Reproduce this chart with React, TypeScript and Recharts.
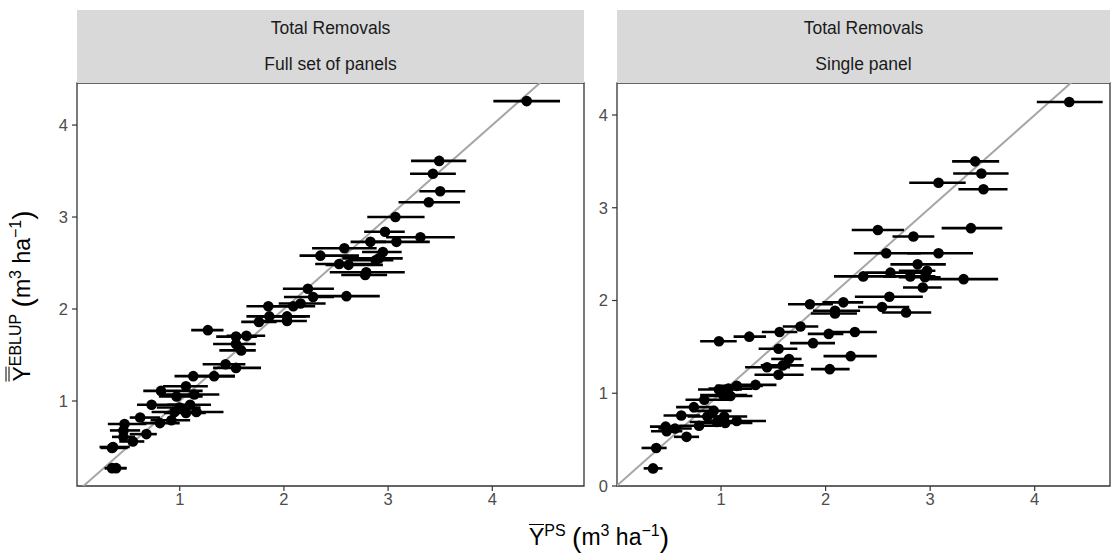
import {
  ErrorBar,
  ReferenceArea,
  ReferenceLine,
  Scatter,
  ScatterChart,
  XAxis,
  YAxis,
} from 'recharts';

// Full set of panels: PS estimate (x), EBLUP (y), and the x interval ends
const fullX = [4.33, 3.49, 3.43, 3.5, 3.39, 3.07, 2.97, 2.83, 3.08, 3.31, 2.58, 2.95, 2.35, 2.91, 2.88, 2.53, 2.62, 2.79, 2.78, 2.6, 2.23, 2.28, 2.16, 2.09, 1.85, 1.86, 1.76, 2.03, 2.03, 1.27, 1.54, 1.64, 1.54, 1.59, 1.44, 1.54, 1.13, 1.33, 1.06, 0.82, 1.14, 0.97, 0.73, 1.1, 1.0, 0.95, 1.16, 1.06, 0.92, 0.81, 0.62, 0.47, 0.46, 0.68, 0.46, 0.55, 0.36, 0.35, 0.35, 0.39];
const fullY = [4.26, 3.61, 3.47, 3.28, 3.16, 3.0, 2.84, 2.73, 2.73, 2.78, 2.66, 2.62, 2.58, 2.55, 2.53, 2.49, 2.48, 2.4, 2.37, 2.14, 2.22, 2.13, 2.06, 2.03, 2.03, 1.92, 1.86, 1.92, 1.87, 1.77, 1.7, 1.71, 1.62, 1.55, 1.4, 1.36, 1.27, 1.27, 1.16, 1.11, 1.07, 1.05, 0.96, 0.96, 0.93, 0.88, 0.88, 0.87, 0.79, 0.76, 0.82, 0.75, 0.68, 0.64, 0.61, 0.56, 0.5, 0.49, 0.27, 0.27];
const fullLo = [4.01, 3.22, 3.21, 3.3, 3.1, 2.8, 2.77, 2.64, 2.85, 2.98, 2.27, 2.75, 2.15, 2.56, 2.62, 2.3, 2.4, 2.44, 2.55, 2.27, 1.99, 2.0, 1.95, 1.86, 1.64, 1.64, 1.59, 1.77, 1.78, 1.11, 1.35, 1.45, 1.32, 1.38, 1.22, 1.32, 0.95, 1.17, 0.84, 0.65, 0.81, 0.8, 0.59, 0.88, 0.78, 0.73, 0.9, 0.85, 0.72, 0.63, 0.52, 0.31, 0.33, 0.52, 0.35, 0.42, 0.23, 0.24, 0.28, 0.28];
const fullHi = [4.65, 3.75, 3.65, 3.74, 3.69, 3.35, 3.16, 2.98, 3.4, 3.64, 2.89, 3.13, 2.72, 3.14, 3.05, 2.85, 2.95, 3.16, 2.99, 2.92, 2.48, 2.48, 2.4, 2.3, 2.15, 2.21, 1.93, 2.25, 2.22, 1.42, 1.74, 1.82, 1.73, 1.73, 1.63, 1.78, 1.53, 1.53, 1.27, 1.22, 1.38, 1.22, 1.0, 1.3, 1.2, 1.15, 1.42, 1.25, 1.1, 1.0, 0.81, 0.68, 0.62, 0.78, 0.57, 0.66, 0.52, 0.5, 0.49, 0.49];

// Single panel
const singleX = [4.33, 3.43, 3.49, 3.08, 3.51, 3.39, 2.5, 2.84, 2.58, 3.08, 2.88, 2.62, 2.97, 2.36, 2.81, 2.95, 3.32, 2.93, 2.61, 2.54, 2.77, 1.85, 2.17, 2.09, 2.09, 1.76, 1.56, 2.03, 2.28, 1.88, 2.24, 2.04, 1.27, 0.98, 1.55, 1.65, 1.59, 1.44, 1.55, 1.33, 1.15, 1.07, 1.02, 1.09, 0.98, 0.84, 0.74, 0.93, 0.62, 0.87, 1.03, 0.96, 1.04, 1.15, 0.79, 0.47, 0.48, 0.56, 0.67, 0.38, 0.35];
const singleY = [4.14, 3.5, 3.37, 3.27, 3.2, 2.78, 2.76, 2.69, 2.51, 2.51, 2.39, 2.3, 2.32, 2.26, 2.26, 2.25, 2.23, 2.14, 2.04, 1.93, 1.87, 1.96, 1.98, 1.89, 1.86, 1.72, 1.66, 1.64, 1.66, 1.54, 1.4, 1.26, 1.61, 1.56, 1.48, 1.37, 1.3, 1.28, 1.2, 1.09, 1.08, 1.05, 0.98, 0.97, 1.04, 0.93, 0.85, 0.81, 0.76, 0.75, 0.75, 0.69, 0.68, 0.7, 0.65, 0.64, 0.59, 0.62, 0.53, 0.41, 0.19];
const singleLo = [4.02, 3.21, 3.22, 2.8, 3.27, 3.11, 2.25, 2.64, 2.27, 2.78, 2.62, 2.38, 2.7, 2.08, 2.55, 2.7, 2.98, 2.74, 2.28, 2.31, 2.54, 1.64, 1.97, 1.88, 1.86, 1.59, 1.39, 1.83, 2.07, 1.66, 1.98, 1.86, 1.12, 0.8, 1.36, 1.48, 1.38, 1.23, 1.32, 1.1, 0.95, 0.88, 0.8, 0.88, 0.78, 0.66, 0.57, 0.72, 0.45, 0.68, 0.82, 0.7, 0.8, 0.9, 0.6, 0.32, 0.33, 0.4, 0.55, 0.24, 0.26];
const singleHi = [4.65, 3.66, 3.75, 3.34, 3.74, 3.69, 2.75, 3.04, 2.91, 3.41, 3.15, 2.96, 3.05, 2.68, 3.05, 3.1, 3.65, 3.11, 2.93, 2.8, 3.01, 2.07, 2.36, 2.33, 2.3, 1.93, 1.73, 2.17, 2.49, 2.09, 2.49, 2.23, 1.43, 1.15, 1.73, 1.77, 1.79, 1.66, 1.79, 1.53, 1.4, 1.3, 1.25, 1.3, 1.2, 1.09, 0.95, 1.1, 0.8, 1.05, 1.25, 1.25, 1.3, 1.43, 1.0, 0.62, 0.63, 0.72, 0.79, 0.48, 0.44];

const axisTicks = [1, 2, 3, 4];
const singleYTicks = [0, 1, 2, 3, 4];
const oneToOne = [0, 5];

const FONT = '"Liberation Sans", Arial, Helvetica, sans-serif';
const TICK = { fill: '#4D4D4D', fontSize: 16.5, fontFamily: FONT };

function toRows(xs: number[], ys: number[], lo: number[], hi: number[]) {
  return xs.map((x, i) => ({ x, y: ys[i], err: [x - lo[i], hi[i] - x] }));
}

const Dot = (props: any) => <circle cx={props.cx} cy={props.cy} r={5.3} fill="#000" />;

interface PanelProps {
  rows: { x: number; y: number; err: number[] }[];
  xDomain: [number, number];
  yDomain: [number, number];
  yTicks: number[];
  width: number;
  yAxisWidth: number;
  marginLeft: number;
  marginRight: number;
}

function Panel({ rows, xDomain, yDomain, yTicks, width, yAxisWidth, marginLeft, marginRight }: PanelProps) {
  return (
    <ScatterChart
      width={width}
      height={555}
      margin={{ top: 83, right: marginRight, bottom: 39, left: marginLeft }}
    >
      <XAxis
        type="number"
        dataKey="x"
        domain={xDomain}
        ticks={axisTicks}
        allowDataOverflow
        axisLine={false}
        tickSize={5}
        tickMargin={2}
        tickLine={{ stroke: '#333', strokeWidth: 1.2 }}
        tick={TICK}
        height={30}
      />
      <YAxis
        type="number"
        dataKey="y"
        domain={yDomain}
        ticks={yTicks}
        allowDataOverflow
        axisLine={false}
        tickSize={5}
        tickMargin={4}
        tickLine={{ stroke: '#333', strokeWidth: 1.2 }}
        tick={TICK}
        width={yAxisWidth}
      />
      <ReferenceLine
        segment={[
          { x: oneToOne[0], y: oneToOne[0] },
          { x: oneToOne[1], y: oneToOne[1] },
        ]}
        stroke="#A6A6A6"
        strokeWidth={2}
        ifOverflow="hidden"
      />
      <Scatter data={rows} shape={Dot} isAnimationActive={false}>
        <ErrorBar dataKey="err" direction="x" width={0} stroke="#000" strokeWidth={2.6} />
      </Scatter>
      <ReferenceArea
        x1={xDomain[0]}
        x2={xDomain[1]}
        y1={yDomain[0]}
        y2={yDomain[1]}
        fill="none"
        fillOpacity={0}
        stroke="#333"
        strokeWidth={1.3}
        ifOverflow="visible"
      />
    </ScatterChart>
  );
}

const stripStyle = (left: number, top: number, width: number): React.CSSProperties => ({
  position: 'absolute',
  left,
  top,
  width,
  height: 36.5,
  background: '#D9D9D9',
  color: '#1A1A1A',
  fontSize: 17.5,
  display: 'flex',
  alignItems: 'center',
  justifyContent: 'center',
});

const SUP: React.CSSProperties = { fontSize: 16 };
const PAREN: React.CSSProperties = { fontSize: 28, verticalAlign: '-2px' };

export default function App() {
  const full = toRows(fullX, fullY, fullLo, fullHi);
  const single = toRows(singleX, singleY, singleLo, singleHi);
  return (
    <div
      style={{
        position: 'absolute',
        left: 0,
        top: 0,
        width: 1116,
        height: 555,
        background: '#fff',
        fontFamily: FONT,
        overflow: 'hidden',
      }}
    >
      <div style={{ position: 'absolute', left: 0, top: 0 }}>
        <Panel
          rows={full}
          xDomain={[0.014, 4.88]}
          yDomain={[0.076, 4.457]}
          yTicks={axisTicks}
          width={590}
          yAxisWidth={50}
          marginLeft={27}
          marginRight={6}
        />
      </div>
      <div style={{ position: 'absolute', left: 590, top: 0 }}>
        <Panel
          rows={single}
          xDomain={[0.005, 4.72]}
          yDomain={[0, 4.345]}
          yTicks={singleYTicks}
          width={526}
          yAxisWidth={27}
          marginLeft={0}
          marginRight={6}
        />
      </div>

      <div style={stripStyle(77, 10, 507)}>Total Removals</div>
      <div style={stripStyle(77, 46.5, 507)}>Full set of panels</div>
      <div style={stripStyle(617, 10, 493)}>Total Removals</div>
      <div style={stripStyle(617, 46.5, 493)}>Single panel</div>

      <div
        style={{
          position: 'absolute',
          left: 22,
          top: 296,
          transform: 'translate(-50%, -50%) rotate(-90deg)',
          whiteSpace: 'nowrap',
          fontSize: 23,
          color: '#000',
        }}
      >
        <span style={{ display: 'inline-block', borderTop: '4px double #000', lineHeight: 1, paddingTop: 1 }}>Y</span>
        <sup style={SUP}>EBLUP</sup> <span style={PAREN}>(</span>m<sup style={SUP}>3</sup> ha
        <sup style={SUP}>−1</sup>
        <span style={PAREN}>)</span>
      </div>

      <div
        style={{
          position: 'absolute',
          left: 599,
          top: 538,
          transform: 'translate(-50%, -50%)',
          whiteSpace: 'nowrap',
          fontSize: 23,
          color: '#000',
        }}
      >
        <span style={{ display: 'inline-block', borderTop: '1.5px solid #000', lineHeight: 1, paddingTop: 1 }}>Y</span>
        <sup style={SUP}>PS</sup> <span style={PAREN}>(</span>m<sup style={SUP}>3</sup> ha
        <sup style={SUP}>−1</sup>
        <span style={PAREN}>)</span>
      </div>
    </div>
  );
}
